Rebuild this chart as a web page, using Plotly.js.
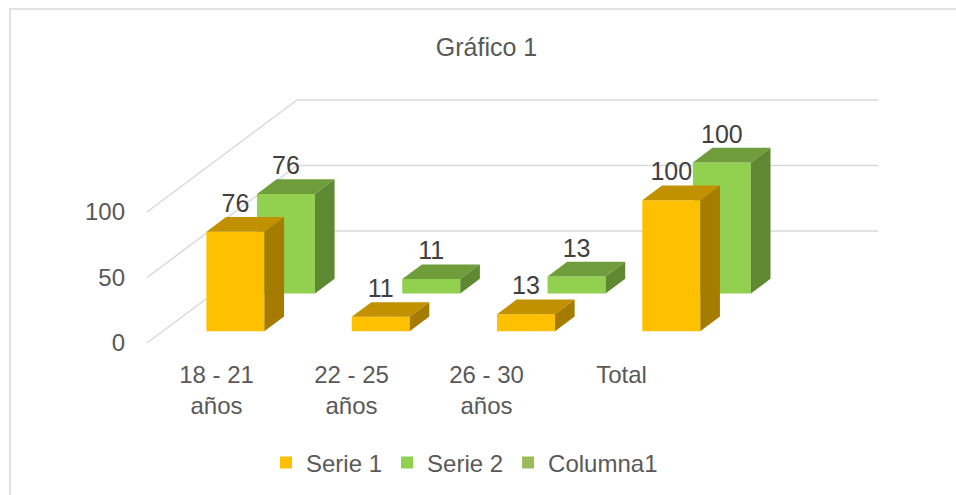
<!DOCTYPE html>
<html>
<head>
<meta charset="utf-8">
<script src="https://cdn.plot.ly/plotly-3.0.1.min.js"></script>
<style>html,body{margin:0;padding:0;background:#fff}#chart{width:956px;height:495px}</style>
</head>
<body>
<div id="chart"></div>
<script>
// ---- data ----
const categories = ['18 - 21<br>años', '22 - 25<br>años', '26 - 30<br>años', 'Total'];
const serie1 = [76, 11, 13, 100];
const serie2 = [76, 11, 13, 100];
const columna1 = [null, null, null, null];
const yTicks = [0, 50, 100];

// ---- geometry (oblique 3D look) ----
const W = 956, H = 495;
const PX_CAT = 145.3, PX_VAL = 1.31;      // px per category / per value unit
const DEP_X = 150, DEP_Y = 112;           // px shift for depth 0 -> 1 (front -> back wall)
const X0 = 219.65, Y0 = 343;              // px of category 0 / value 0 on the front plane
const sx = d => DEP_X * d / PX_CAT;       // depth shift in category units
const sy = d => DEP_Y * d / PX_VAL;       // depth shift in value units
const HW = 0.1995;                        // half bar width (category units)
const BAR_DEPTH = 0.131;
const ROW1 = 0.105, ROW2 = 0.442;         // depth of front faces for each series
const LIFT = 26 / PX_VAL;                 // label lift above front top edge
const fontFam = 'Liberation Sans, Arial, sans-serif';
const xr = [(0 - X0) / PX_CAT, (W - X0) / PX_CAT];
const yr = [(Y0 - H) / PX_VAL, Y0 / PX_VAL];

const series = [
  {name: 'Serie 2', vals: serie2, d: ROW2, front: '#92D050', top: '#6F9D3C', side: '#5E8832', rank: 2},
  {name: 'Serie 1', vals: serie1, d: ROW1, front: '#FFC000', top: '#C29100', side: '#A67C00', rank: 1}
];

const traces = [];
// front faces as bar traces
series.forEach(s => {
  traces.push({
    type: 'bar', name: s.name, legendrank: s.rank,
    x: s.vals.map((v, i) => i + sx(s.d)),
    y: s.vals, base: s.vals.map(() => sy(s.d)),
    width: 2 * HW, marker: {color: s.front, line: {width: 0}},
    hoverinfo: 'skip', xaxis: 'x', yaxis: 'y'
  });
});
traces.push({type: 'bar', name: 'Columna1', legendrank: 3, x: [0, 1, 2, 3], y: columna1,
  marker: {color: '#9BBB59'}, xaxis: 'x', yaxis: 'y', hoverinfo: 'skip'});

// top and side faces
series.forEach(s => {
  const df = s.d, db = s.d + BAR_DEPTH;
  s.vals.forEach((v, i) => {
    const l = i - HW, r = i + HW;
    traces.push({type: 'scatter', mode: 'lines', showlegend: false, hoverinfo: 'skip',
      x: [l + sx(df), r + sx(df), r + sx(db), l + sx(db), l + sx(df)],
      y: [v + sy(df), v + sy(df), v + sy(db), v + sy(db), v + sy(df)],
      fill: 'toself', fillcolor: s.top, line: {width: 0, color: s.top}});
    traces.push({type: 'scatter', mode: 'lines', showlegend: false, hoverinfo: 'skip',
      x: [r + sx(df), r + sx(df), r + sx(db), r + sx(db), r + sx(df)],
      y: [sy(df), v + sy(df), v + sy(db), sy(db), sy(df)],
      fill: 'toself', fillcolor: s.side, line: {width: 0, color: s.side}});
  });
});
// data labels
series.forEach(s => {
  traces.push({type: 'scatter', mode: 'text', showlegend: false, hoverinfo: 'skip',
    x: s.vals.map((v, i) => i + sx(s.d)),
    y: s.vals.map(v => v + sy(s.d) + LIFT),
    text: s.vals.map(String), textposition: 'middle center',
    textfont: {family: fontFam, size: 25, color: '#404040'}});
});
// invisible trace for the label axes
traces.push({type: 'scatter', mode: 'markers', x: [0, 3], y: [0, 100], xaxis: 'x2', yaxis: 'y2',
  marker: {opacity: 0}, showlegend: false, hoverinfo: 'skip'});

// gridlines (back wall + side wall), drawn below traces
const shapes = [];
const gl = {color: '#D9D9D9', width: 1.5};
yTicks.forEach(t => {
  shapes.push({type: 'line', xref: 'x', yref: 'y', layer: 'below', line: gl,
    x0: -0.5 + sx(1), y0: t + sy(1), x1: 3.5 + sx(1), y1: t + sy(1)});
  shapes.push({type: 'line', xref: 'x', yref: 'y', layer: 'below', line: gl,
    x0: -0.5, y0: t, x1: -0.5 + sx(1), y1: t + sy(1)});
});
// outer border
shapes.push({type: 'rect', xref: 'paper', yref: 'paper', layer: 'below',
  x0: 10 / W, x1: 1.05, y0: -0.05, y1: 1 - 9 / H, line: {color: '#D9D9D9', width: 1.5}});

const layout = {
  width: W, height: H, margin: {l: 0, r: 0, t: 0, b: 0},
  paper_bgcolor: '#fff', plot_bgcolor: 'rgba(0,0,0,0)',
  barmode: 'overlay', showlegend: true, hovermode: false,
  font: {family: fontFam, size: 24, color: '#595959'},
  title: {text: 'Gráfico 1', x: 486.5 / W, xanchor: 'center', y: 1 - 47 / H, yanchor: 'middle',
    font: {family: fontFam, size: 25, color: '#595959'}},
  xaxis: {domain: [0, 1], range: xr, visible: false, fixedrange: true},
  yaxis: {domain: [0, 1], range: yr, visible: false, fixedrange: true},
  xaxis2: {domain: [149 / W, 689 / W], range: [-0.5, 3.5], anchor: 'free', position: 1 - 358 / H,
    tickvals: [0, 1, 2, 3], ticktext: categories, showgrid: false, zeroline: false, showline: false,
    ticks: '', tickfont: {size: 24, color: '#595959'}},
  yaxis2: {domain: [1 - Y0 / H, 1 - (Y0 - 100 * PX_VAL) / H], range: [0, 100], anchor: 'free',
    position: 125 / W, side: 'left', tickvals: yTicks, showgrid: false, zeroline: false,
    showline: false, ticks: '', tickfont: {size: 24, color: '#595959'}},
  legend: {orientation: 'h', x: 266 / W, xanchor: 'left', y: 1 - 463 / H, yanchor: 'middle',
    font: {size: 24, color: '#595959'}, traceorder: 'normal', bgcolor: 'rgba(0,0,0,0)'},
  shapes: shapes
};
Plotly.newPlot('chart', traces, layout, {staticPlot: true, displayModeBar: false});
</script>
</body>
</html>
